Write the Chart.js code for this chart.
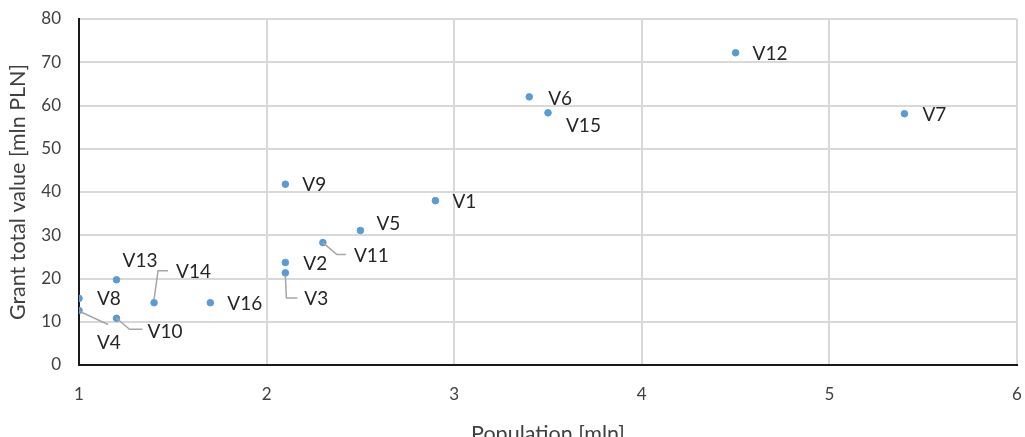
<!DOCTYPE html>
<html>
<head>
<meta charset="utf-8">
<script src="https://cdn.jsdelivr.net/npm/chart.js@4.4.1/dist/chart.umd.min.js"></script>
<style>
  html, body { margin: 0; padding: 0; background: #fff; overflow: hidden; }
  #wrap { position: relative; width: 1025px; height: 452px; }
</style>
</head>
<body>
<div id="wrap"><canvas id="chart"></canvas></div>
<script>
// Datos del gráfico
const names = ["V1", "V2", "V3", "V4", "V5", "V6", "V7", "V8", "V9", "V10", "V11", "V12", "V13", "V14", "V15", "V16"];
const population = [2.9, 2.1, 2.1, 1.0, 2.5, 3.4, 5.4, 1.0, 2.1, 1.2, 2.3, 4.5, 1.2, 1.4, 3.5, 1.7];
const grantValue = [38.0, 23.7, 21.3, 12.6, 31.1, 62.0, 58.1, 15.4, 41.8, 10.8, 28.3, 72.2, 19.7, 14.4, 58.3, 14.4];
const xTicks = [1, 2, 3, 4, 5, 6];
const yTicks = [0, 10, 20, 30, 40, 50, 60, 70, 80];

// Posición de las etiquetas (px respecto al punto) y líneas guía
const labelPos = {
  V1: { dx: 17, dy: 1 },
  V2: { dx: 18, dy: 1 },
  V3: { dx: 19, dy: 26, leader: [[0, 2], [1, 25], [12, 25]] },
  V4: { dx: 18, dy: 32, leader: [[1, 1], [29, 14]] },
  V5: { dx: 16, dy: -7 },
  V6: { dx: 19, dy: 2 },
  V7: { dx: 18, dy: 1 },
  V8: { dx: 18, dy: 0 },
  V9: { dx: 17, dy: 1 },
  V10: { dx: 31, dy: 14, leader: [[0, 0], [13, 11], [26, 11]] },
  V11: { dx: 31, dy: 13, leader: [[0, 0], [14, 12], [23, 12]] },
  V12: { dx: 17, dy: 1 },
  V13: { dx: 6, dy: -19 },
  V14: { dx: 22, dy: -31, leader: [[0, -3], [4, -32], [14, -32]] },
  V15: { dx: 18, dy: 13 },
  V16: { dx: 17, dy: 1 },
};

const pointLabels = {
  id: "pointLabels",
  afterDatasetsDraw(chart) {
    const ctx = chart.ctx;
    const meta = chart.getDatasetMeta(0);
    ctx.save();
    meta.data.forEach((pt, i) => {
      const cfg = labelPos[names[i]];
      if (cfg.leader) {
        ctx.beginPath();
        ctx.strokeStyle = "#a6a6a6";
        ctx.lineWidth = 1.5;
        cfg.leader.forEach((p, j) => {
          const x = pt.x + p[0], y = pt.y + p[1];
          if (j === 0) ctx.moveTo(x, y); else ctx.lineTo(x, y);
        });
        ctx.stroke();
      }
      ctx.font = "19px Lato";
      ctx.fillStyle = "#262626";
      ctx.textAlign = "left";
      ctx.textBaseline = "middle";
      ctx.fillText(names[i], pt.x + cfg.dx, pt.y + cfg.dy);
    });
    ctx.restore();
  },
};

const ctx = document.getElementById("chart").getContext("2d");
new Chart(ctx, {
  type: "scatter",
  data: {
    datasets: [
      {
        label: "Grant",
        data: population.map((x, i) => ({ x: x, y: grantValue[i] })),
        backgroundColor: "#5b9bd5",
        borderColor: "#5b9bd5",
        pointRadius: 3.3,
        pointHoverRadius: 3.3,
      },
    ],
  },
  options: {
    responsive: true,
    maintainAspectRatio: false,
    animation: false,
    layout: { padding: { top: 19, right: 8, bottom: 0, left: 0 } },
    plugins: { legend: { display: false }, tooltip: { enabled: false } },
    scales: {
      x: {
        type: "linear",
        min: 1,
        max: 6,
        afterBuildTicks: (axis) => { axis.ticks = xTicks.map((v) => ({ value: v })); },
        afterFit: (axis) => {
          axis.height = 87;
          axis.paddingLeft = 0;
          axis.paddingRight = 0;
        },
        grid: { color: "#d9d9d9", lineWidth: 2, drawTicks: false },
        border: { color: "#1a1a1a", width: 2 },
        ticks: { color: "#404040", font: { family: "Lato", size: 17 }, padding: 19 },
        title: {
          display: true,
          text: "Population [mln]",
          color: "#404040",
          font: { family: "Lato", size: 21.5 },
          padding: { top: 0, bottom: 5 },
        },
      },
      y: {
        min: 0,
        max: 80,
        afterBuildTicks: (axis) => { axis.ticks = yTicks.map((v) => ({ value: v })); },
        afterFit: (axis) => {
          axis.width = 79;
          axis.paddingTop = 0;
          axis.paddingBottom = 0;
        },
        grid: { color: "#d9d9d9", lineWidth: 2, drawTicks: false },
        border: { color: "#1a1a1a", width: 2 },
        ticks: { color: "#404040", font: { family: "Lato", size: 17 }, padding: 18 },
        title: {
          display: true,
          text: "Grant total value [mln PLN]",
          color: "#404040",
          font: { family: "Lato", size: 21.5 },
          padding: { top: 5, bottom: 0 },
        },
      },
    },
  },
  plugins: [pointLabels],
});
</script>
</body>
</html>
